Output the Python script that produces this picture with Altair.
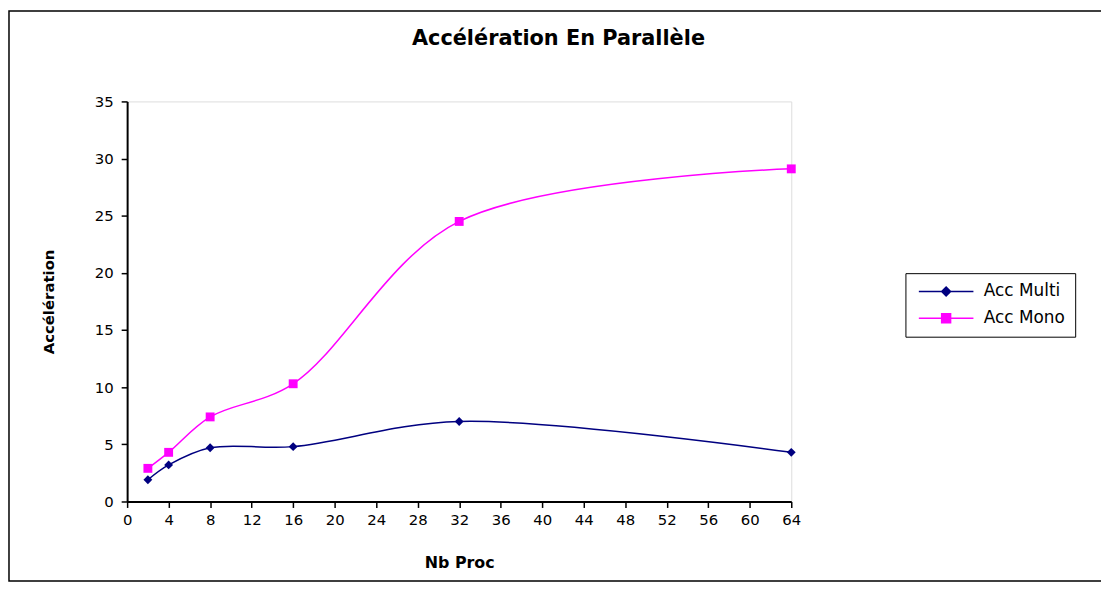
import altair as alt
import pandas as pd

# ---- data ----
procs = [2, 4, 8, 16, 32, 64]
acc_multi = [1.9, 3.2, 4.7, 4.8, 7.0, 4.3]
acc_mono = [2.9, 4.3, 7.4, 10.3, 24.5, 29.1]
series_names = ["Acc Multi", "Acc Mono"]
series_colors = ["#000080", "#FF00FF"]
x_ticks = list(range(0, 65, 4))
y_ticks = list(range(0, 36, 5))

df = pd.DataFrame({
    "proc": procs + procs,
    "acc": acc_multi + acc_mono,
    "series": [series_names[0]] * len(procs) + [series_names[1]] * len(procs),
})

FONT = "DejaVu Sans"
W, H = 669, 403
PAD = {"left": 120, "top": 92, "right": 312, "bottom": 81}

x_enc = alt.X(
    "proc:Q",
    scale=alt.Scale(domain=[0, 64], nice=False, zero=False),
    axis=alt.Axis(
        values=x_ticks, title="Nb Proc", grid=False,
        labelFont=FONT, labelFontSize=15, labelColor="#000", labelPadding=5,
        tickSize=6, tickColor="#000", tickWidth=1.5,
        domainColor="#000", domainWidth=2,
        titleFont=FONT, titleFontSize=16, titleFontWeight="bold", titleColor="#000",
        titlePadding=27, labelFlush=False,
    ),
)
y_enc = alt.Y(
    "acc:Q",
    scale=alt.Scale(domain=[0, 35], nice=False),
    axis=alt.Axis(
        values=y_ticks, title="Accélération", grid=False,
        labelFont=FONT, labelFontSize=15, labelColor="#000", labelPadding=8,
        tickSize=6, tickColor="#000", tickWidth=1.5,
        domainColor="#000", domainWidth=2,
        titleFont=FONT, titleFontSize=15, titleFontWeight="bold", titleColor="#000",
        titlePadding=38,
    ),
)

color_cond = alt.condition(
    alt.datum.series == series_names[0],
    alt.value(series_colors[0]),
    alt.value(series_colors[1]),
)

base = alt.Chart(df)

lines = base.mark_line(interpolate="catmull-rom", strokeWidth=1.5).encode(
    x=x_enc, y=y_enc, detail="series:N", color=color_cond
)

pts_multi = base.transform_filter(alt.datum.series == series_names[0]).mark_point(
    shape="diamond", filled=True, size=80, opacity=1
).encode(x="proc:Q", y="acc:Q", color=alt.value(series_colors[0]))

pts_mono = base.transform_filter(alt.datum.series == series_names[1]).mark_point(
    shape="square", filled=True, size=80, opacity=1
).encode(x="proc:Q", y="acc:Q", color=alt.value(series_colors[1]))

legend_paths = [
    "M-1,0H10M4.5,-0.9L5.4,0L4.5,0.9L3.6,0Z",
    "M-1,0H10M3.6,-0.9H5.4V0.9H3.6Z",
]
legend_layer = base.transform_filter("datum.proc > 1000").mark_point(
    size=100, opacity=1, strokeWidth=1.5
).encode(
    x="proc:Q", y="acc:Q",
    fill=alt.Fill("series:N", scale=alt.Scale(domain=series_names, range=series_colors), legend=alt.Legend(title=None)),
    stroke=alt.Stroke("series:N", scale=alt.Scale(domain=series_names, range=series_colors), legend=alt.Legend(title=None)),
    shape=alt.Shape(
        "series:N",
        scale=alt.Scale(domain=series_names, range=legend_paths),
        legend=alt.Legend(
            title=None, orient="none", legendX=784, legendY=173,
            labelFont=FONT, labelFontSize=17, labelColor="#000",
            symbolSize=100, symbolStrokeWidth=1.5, labelOffset=52,
            rowPadding=9, padding=10, strokeColor="#000",
            fillColor="#fff", symbolOpacity=1,
        ),
    ),
)

frame = alt.Chart(alt.Data(values=[{"k": 1}])).mark_rect(
    fill=None, stroke="#000", strokeWidth=1.5
).encode(
    x=alt.value(-119), x2=alt.value(W + PAD["right"] + 10),
    y=alt.value(-PAD["top"] + 1), y2=alt.value(H + PAD["bottom"] - 1),
)

chart = alt.layer(frame, lines, pts_multi, pts_mono, legend_layer).properties(
    width=W, height=H,
    autosize=alt.AutoSizeParams(type="none"),
    padding=PAD,
    title=alt.TitleParams(
        "Accélération En Parallèle", font=FONT, fontSize=21, fontWeight="bold",
        color="#000", anchor="middle", frame="group", dx=100, offset=-60,
        baseline="bottom",
    ),
).configure_view(stroke="#808080", strokeWidth=1.5).configure(background="#ffffff")

chart.save("out.html", embed_options={"renderer": "svg", "actions": False})
